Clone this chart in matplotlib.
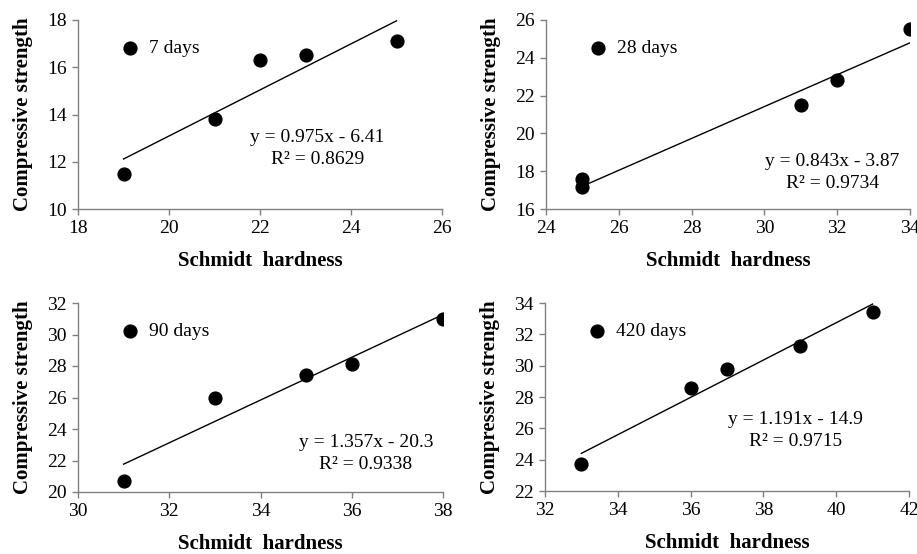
import matplotlib.pyplot as plt
import numpy as np

plt.rcParams["font.family"] = ["Liberation Serif", "DejaVu Serif"]

# Data
labels = ["7 days", "28 days", "90 days", "420 days"]
hardness = [
    [19, 21, 22, 23, 25],
    [25, 25, 31, 32, 34],
    [31, 33, 35, 36, 38],
    [33, 36, 37, 39, 41],
]
strength = [
    [11.5, 13.8, 16.3, 16.5, 17.1],
    [17.6, 17.15, 21.5, 22.8, 25.5],
    [20.7, 26.0, 27.45, 28.1, 31.0],
    [23.7, 28.6, 29.8, 31.25, 33.4],
]
slopes = [0.975, 0.843, 1.357, 1.191]
intercepts = [-6.41, -3.87, -20.3, -14.9]
r2 = ["0.8629", "0.9734", "0.9338", "0.9715"]
xlims = [(18, 26), (24, 34), (30, 38), (32, 42)]
ylims = [(10, 18), (16, 26), (20, 32), (22, 34)]

# where the equation text sits, in axes fractions
eq_pos = [(0.657, 0.38), (0.786, 0.25), (0.789, 0.26), (0.687, 0.38)]

fig = plt.figure(figsize=(9.17, 5.54), dpi=100)
W, H = 917, 554
boxes = [(78, 20, 442, 209), (546, 20, 910, 209),
         (78, 303, 443, 492), (545, 303, 909, 491)]

for i in range(4):
    l, t, r, b = boxes[i]
    ax = fig.add_axes([l / W, 1 - b / H, (r - l) / W, (b - t) / H])
    x = np.array(hardness[i])
    ax.scatter(x, strength[i], s=85, color="black", zorder=3, label=labels[i])
    xf = np.array([x.min(), x.max()])
    ax.plot(xf, slopes[i] * xf + intercepts[i], color="black", lw=1)

    ax.set_xlim(*xlims[i])
    ax.set_ylim(*ylims[i])
    ax.set_xticks(np.arange(xlims[i][0], xlims[i][1] + 1, 2))
    ax.set_yticks(np.arange(ylims[i][0], ylims[i][1] + 1, 2))
    for s in ["top", "right"]:
        ax.spines[s].set_visible(False)
    for s in ["left", "bottom"]:
        ax.spines[s].set_color("#808080")
        ax.spines[s].set_linewidth(1)
    ax.tick_params(direction="out", length=4, width=1, color="#808080",
                   labelsize=14, pad=4)
    ax.set_xlabel("Schmidt  hardness", fontsize=15, fontweight="bold", labelpad=10)
    ax.set_ylabel("Compressive strength", fontsize=15, fontweight="bold", labelpad=10)

    ex, ey = eq_pos[i]
    sign = "-" if intercepts[i] < 0 else "+"
    ax.text(ex, ey, f"y = {slopes[i]}x {sign} {abs(intercepts[i])}",
            transform=ax.transAxes, ha="center", va="center", fontsize=14)
    ax.text(ex, ey - 0.116, f"R\u00b2 = {r2[i]}",
            transform=ax.transAxes, ha="center", va="center", fontsize=14)

    ax.legend(loc="center left", bbox_to_anchor=(0.115, 0.852), frameon=False,
              fontsize=14, handlelength=1, handletextpad=0.5,
              borderpad=0, borderaxespad=0, scatterpoints=1)

fig.savefig("out.png", dpi=100)
